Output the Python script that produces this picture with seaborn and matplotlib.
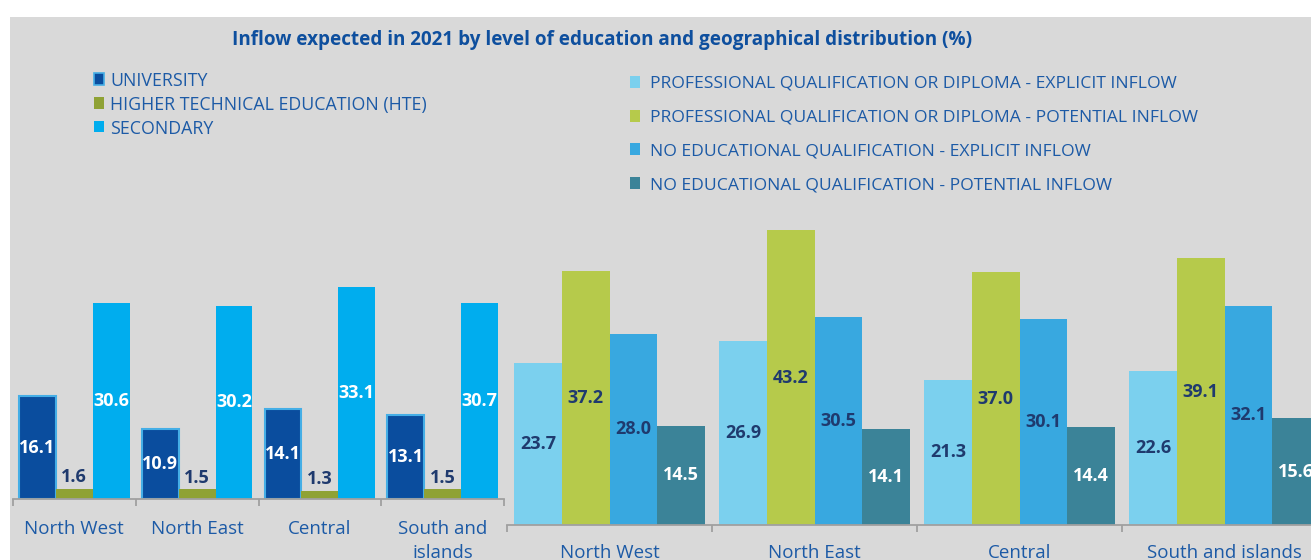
import matplotlib
matplotlib.use("Agg")
import matplotlib.pyplot as plt
from matplotlib.patches import Rectangle
import seaborn as sns
import pandas as pd

# --- data -------------------------------------------------------------
regions_left = ["North West", "North East", "Central", "South and\nislands"]
regions_right = ["North West", "North East", "Central", "South and islands"]

left_series = ["UNIVERSITY", "HIGHER TECHNICAL EDUCATION (HTE)", "SECONDARY"]
university = [16.1, 10.9, 14.1, 13.1]
hte = [1.6, 1.5, 1.3, 1.5]
secondary = [30.6, 30.2, 33.1, 30.7]

right_series = [
    "PROFESSIONAL QUALIFICATION OR DIPLOMA - EXPLICIT INFLOW",
    "PROFESSIONAL QUALIFICATION OR DIPLOMA - POTENTIAL INFLOW",
    "NO EDUCATIONAL QUALIFICATION - EXPLICIT INFLOW",
    "NO EDUCATIONAL QUALIFICATION - POTENTIAL INFLOW",
]
prof_explicit = [23.7, 26.9, 21.3, 22.6]
prof_potential = [37.2, 43.2, 37.0, 39.1]
noedu_explicit = [28.0, 30.5, 30.1, 32.1]
noedu_potential = [14.5, 14.1, 14.4, 15.6]

title = "Inflow expected in 2021 by level of education and geographical distribution (%)"

# --- style ------------------------------------------------------------
left_colors = ["#0a4d9e", "#8fa235", "#00adee"]
right_colors = ["#7bd0ee", "#b6ca4b", "#38a8e0", "#3b8398"]
left_label_colors = ["white", "#1f3a6e", "white"]
right_label_colors = ["#1f3a6e", "#1f3a6e", "#1f3a6e", "white"]
text_color = "#1c5aa6"
axis_color = "#a0a0a0"
panel_color = "#d9d9d9"

plt.rcParams["font.family"] = ["Open Sans", "DejaVu Sans"]

W, H = 1311, 560
fig = plt.figure(figsize=(W / 100, H / 100), dpi=100)
fig.patch.set_facecolor("white")

# grey panel behind everything
fig.add_artist(Rectangle((10 / W, 0), (W - 10) / W, (H - 17) / H,
                         transform=fig.transFigure, facecolor=panel_color,
                         edgecolor="none", zorder=-10))


def px_axes(x0, x1, ybase, ytop=17):
    return fig.add_axes([x0 / W, (H - ybase) / H, (x1 - x0) / W, (ybase - ytop) / H])


ax1 = px_axes(13, 504, 499)
ax2 = px_axes(507, 1327, 525)

df_left = pd.DataFrame({"region": regions_left, left_series[0]: university,
                        left_series[1]: hte, left_series[2]: secondary})
df_left = df_left.melt(id_vars="region", var_name="series", value_name="value")

df_right = pd.DataFrame({"region": regions_right, right_series[0]: prof_explicit,
                         right_series[1]: prof_potential, right_series[2]: noedu_explicit,
                         right_series[3]: noedu_potential})
df_right = df_right.melt(id_vars="region", var_name="series", value_name="value")

sns.barplot(data=df_left, x="region", y="value", hue="series", order=regions_left,
            hue_order=left_series, palette=left_colors, saturation=1, width=0.9,
            legend=False, ax=ax1, linewidth=0)
sns.barplot(data=df_right, x="region", y="value", hue="series", order=regions_right,
            hue_order=right_series, palette=right_colors, saturation=1, width=0.93,
            legend=False, ax=ax2, linewidth=0)

# university bars carry a light blue outline
for bar in ax1.containers[0]:
    bar.set_edgecolor("#45aee6")
    bar.set_linewidth(1.5)

# data labels
for i, cont in enumerate(ax1.containers):
    if i == 1:
        ax1.bar_label(cont, fmt="%.1f", padding=2, color=left_label_colors[i],
                      fontsize=13, fontweight="bold")
    else:
        ax1.bar_label(cont, fmt="%.1f", label_type="center", color=left_label_colors[i],
                      fontsize=13, fontweight="bold")
for i, cont in enumerate(ax2.containers):
    ax2.bar_label(cont, fmt="%.1f", label_type="center", color=right_label_colors[i],
                  fontsize=13, fontweight="bold")

for ax, top, pad in [(ax1, 75.4, 15), (ax2, 74.4, 14)]:
    ax.set_facecolor("none")
    ax.set_xlim(-0.5, 3.5)
    ax.set_ylim(0, top)
    ax.set_xlabel("")
    ax.set_ylabel("")
    ax.set_yticks([])
    for s in ["top", "left", "right"]:
        ax.spines[s].set_visible(False)
    ax.spines["bottom"].set_color(axis_color)
    ax.spines["bottom"].set_linewidth(1.3)
    ax.set_xticks([-0.5, 0.5, 1.5, 2.5, 3.5], minor=True)
    ax.tick_params(axis="x", which="major", length=0, pad=pad, labelsize=13.5,
                   labelcolor=text_color)
    ax.tick_params(axis="x", which="minor", length=5, width=1.3, color=axis_color)

for lbl in ax1.get_xticklabels():
    lbl.set_linespacing(1.45)

# title
fig.text(602 / W, 1 - 40 / H, title, ha="center", va="center", fontsize=13.6,
         fontweight="bold", color="#0e4f9e")

# legends, drawn by hand to sit like the original
for i, (name, col) in enumerate(zip(left_series, left_colors)):
    yc = 79 + 24 * i
    fig.add_artist(Rectangle((94 / W, 1 - (yc + 5.5) / H), 10 / W, 11 / H,
                             transform=fig.transFigure, facecolor=col,
                             edgecolor="#45aee6" if i == 0 else "none", linewidth=1.2))
    fig.text(110 / W, 1 - yc / H, name, ha="left", va="center_baseline",
             fontsize=12.8, color=text_color)

for i, (name, col) in enumerate(zip(right_series, right_colors)):
    yc = 82 + 33.7 * i
    fig.add_artist(Rectangle((630 / W, 1 - (yc + 6) / H), 10 / W, 12 / H,
                             transform=fig.transFigure, facecolor=col, edgecolor="none"))
    fig.text(650 / W, 1 - yc / H, name, ha="left", va="center_baseline",
             fontsize=12.6, color=text_color)

fig.savefig("out.png", dpi=100)
